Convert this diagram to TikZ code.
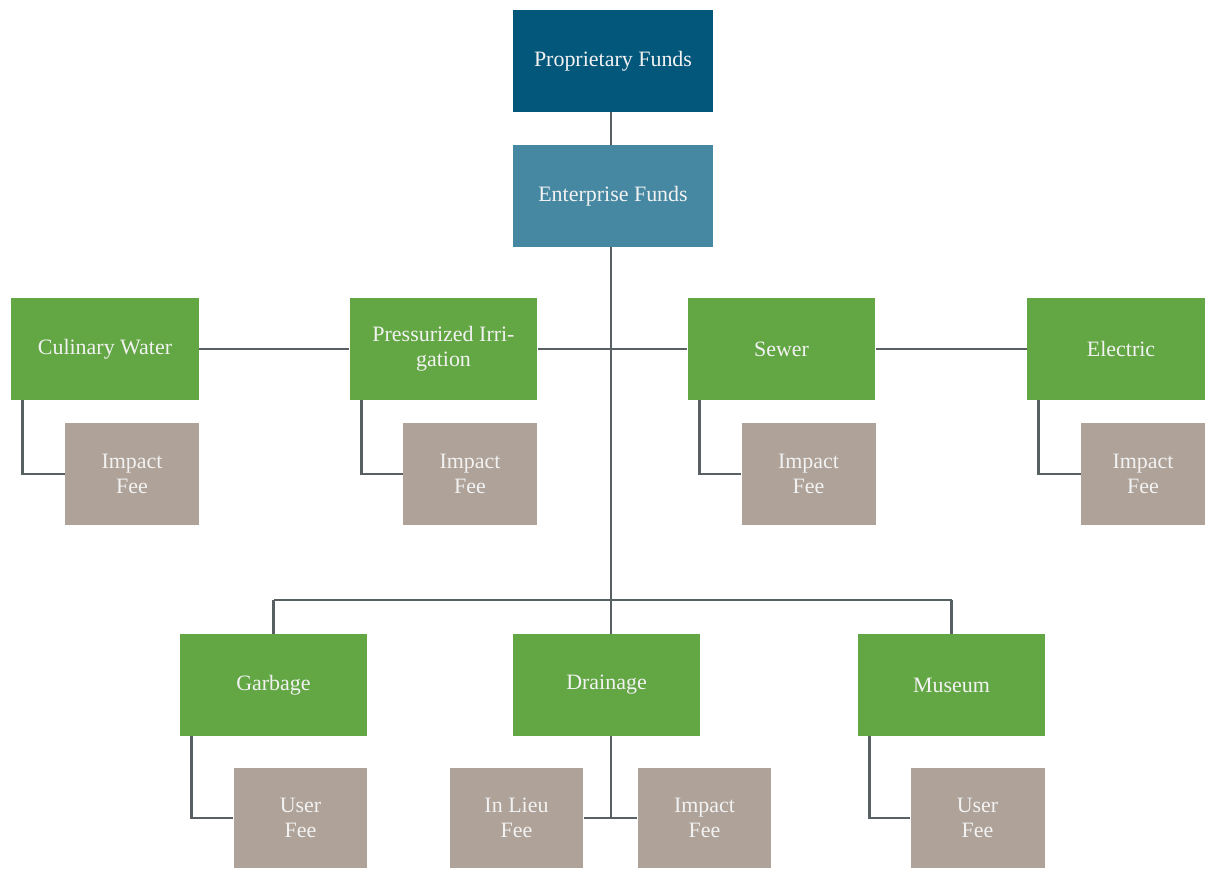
\documentclass[tikz,border=0pt]{standalone}
\usepackage{fontspec}
\setmainfont{Liberation Serif}
\definecolor{propblue}{HTML}{03577A}
\definecolor{entblue}{HTML}{4688A2}
\definecolor{fundgreen}{HTML}{62A744}
\definecolor{feetan}{HTML}{AEA299}
\definecolor{linkgray}{HTML}{596064}
\tikzset{
  box/.style={rectangle, text=white!95!black, align=center, inner sep=2pt,
    font=\fontsize{12.5}{14.5}\selectfont, minimum height=2.04cm},
  topbox/.style={box, fill=propblue, minimum width=4cm},
  entbox/.style={box, fill=entblue, minimum width=4cm},
  fundbox/.style={box, fill=fundgreen, minimum width=3.76cm},
  feebox/.style={box, fill=feetan, minimum width=2.68cm},
  link/.style={draw=linkgray, line width=1.6pt}
}
\begin{document}
\begin{tikzpicture}[x=0.02cm, y=-0.02cm]
    \useasboundingbox (0,0) rectangle (1206,869);

    % Top
    \node[topbox] (prop) at (613,61) {Proprietary Funds};
    \node[entbox] (ent) at (613,196) {Enterprise Funds};

    % Upper row
    \node[fundbox] (culinary) at (105,349) {Culinary Water};
    \node[fundbox] (irrig) at (443.5,349) {Pressurized Irri-\\gation};
    \node[fundbox] (sewer) at (781.5,349) {Sewer};
    \node[fundbox, minimum width=3.56cm] (electric) at (1116,349) {\hspace*{0.2cm}Electric};

    \node[feebox] (culfee) at (132,474) {Impact\\Fee};
    \node[feebox] (irrfee) at (470,474) {Impact\\Fee};
    \node[feebox] (sewfee) at (808.5,474) {Impact\\Fee};
    \node[feebox, minimum width=2.48cm] (elecfee) at (1143,474) {Impact\\Fee};

    % Lower row
    \node[fundbox] (garbage) at (273.5,685) {Garbage};
    \node[fundbox] (drainage) at (606.5,685) {Drainage};
    \node[fundbox] (museum) at (951.5,685) {Museum};

    \node[feebox, minimum height=2cm] (garbfee) at (300.5,818) {User\\Fee};
    \node[feebox, minimum height=2cm] (lieufee) at (516.5,818) {In Lieu\\Fee};
    \node[feebox, minimum height=2cm] (drainfee) at (704.5,818) {Impact\\Fee};
    \node[feebox, minimum height=2cm] (musfee) at (977.5,818) {User\\Fee};

    % Links
    \coordinate (bus) at (611,600);
    \draw[link] (prop.south -| bus) -- (ent.north -| bus);
    \draw[link] (ent.south -| bus) -- (drainage.north -| bus);
    \draw[link] (culinary.east) -- (irrig.west);
    \draw[link] (irrig.east) -- (sewer.west);
    \draw[link] (sewer.east) -- (electric.west);
    \draw[link] (garbage.north |- bus) -- (museum.north |- bus);
    \draw[link] (garbage.north |- bus) -- (garbage.north);
    \draw[link] (museum.north |- bus) -- (museum.north);

    \draw[link] ([xshift=0.24cm]culinary.south west) |- (culfee.west);
    \draw[link] ([xshift=0.24cm]irrig.south west) |- (irrfee.west);
    \draw[link] ([xshift=0.24cm]sewer.south west) |- (sewfee.west);
    \draw[link] ([xshift=0.24cm]electric.south west) |- (elecfee.west);
    \draw[link] ([xshift=0.24cm]garbage.south west) |- (garbfee.west);
    \draw[link] ([xshift=0.24cm]museum.south west) |- (musfee.west);
    \draw[link] (drainage.south -| bus) -- (lieufee.east -| bus);
    \draw[link] (lieufee.east) -- (drainfee.west);
\end{tikzpicture}
\end{document}
